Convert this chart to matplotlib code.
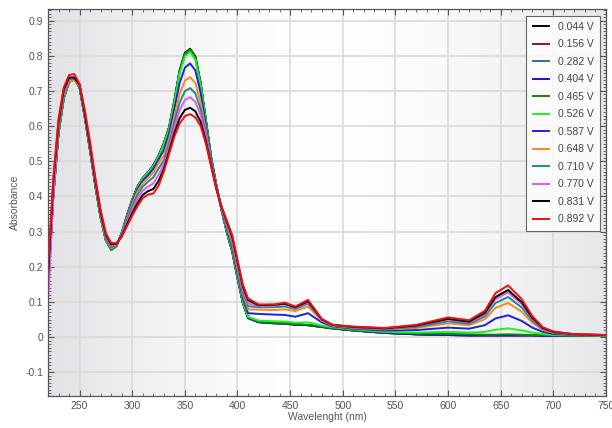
import numpy as np
import matplotlib
matplotlib.use("Agg")
import matplotlib.pyplot as plt
from matplotlib.ticker import MultipleLocator

plt.rcParams["font.family"] = ["Liberation Sans", "DejaVu Sans"]

# --------------------------------------------------------------
# Datos (nm, absorbancia)
# --------------------------------------------------------------
wl = [220, 225, 230, 235, 240, 245, 250, 255, 260, 265, 270, 275, 280, 285, 290,
      295, 300, 305, 310, 315, 320, 325, 330, 335, 340, 345, 350, 355, 360, 365,
      370, 375, 380, 385, 390, 395, 400, 405, 410, 420, 435, 445, 455, 467, 480,
      490, 510, 540, 570, 600, 620, 635, 645, 657, 670, 680, 690, 700, 720, 750]

v_0044 = [0.15, 0.40, 0.58, 0.68, 0.726, 0.735, 0.711, 0.626, 0.531, 0.431, 0.341, 0.276, 0.250, 0.259, 0.295,
          0.345, 0.390, 0.428, 0.452, 0.468, 0.488, 0.516, 0.551, 0.597, 0.672, 0.758, 0.808, 0.820, 0.798, 0.722,
          0.616, 0.510, 0.430, 0.360, 0.297, 0.243, 0.168, 0.098, 0.054, 0.042, 0.039, 0.038, 0.035, 0.034, 0.029,
          0.025, 0.019, 0.012, 0.008, 0.006, 0.005, 0.005, 0.005, 0.005, 0.005, 0.005, 0.004, 0.004, 0.004, 0.003]
v_0156 = [0.14, 0.40, 0.58, 0.68, 0.725, 0.734, 0.710, 0.625, 0.530, 0.430, 0.340, 0.275, 0.249, 0.259, 0.295,
          0.345, 0.390, 0.428, 0.452, 0.468, 0.487, 0.515, 0.550, 0.595, 0.670, 0.756, 0.806, 0.817, 0.796, 0.721,
          0.615, 0.510, 0.430, 0.360, 0.297, 0.244, 0.169, 0.099, 0.055, 0.043, 0.040, 0.039, 0.036, 0.034, 0.029,
          0.025, 0.019, 0.012, 0.008, 0.006, 0.005, 0.005, 0.005, 0.005, 0.005, 0.005, 0.004, 0.004, 0.004, 0.003]
v_0282 = [0.14, 0.40, 0.58, 0.68, 0.725, 0.733, 0.710, 0.625, 0.530, 0.430, 0.340, 0.275, 0.250, 0.260, 0.296,
          0.345, 0.390, 0.428, 0.452, 0.468, 0.487, 0.515, 0.550, 0.595, 0.669, 0.754, 0.804, 0.815, 0.794, 0.720,
          0.615, 0.510, 0.430, 0.360, 0.297, 0.244, 0.169, 0.099, 0.055, 0.043, 0.040, 0.039, 0.036, 0.034, 0.029,
          0.025, 0.019, 0.012, 0.008, 0.006, 0.005, 0.005, 0.005, 0.005, 0.005, 0.005, 0.004, 0.004, 0.004, 0.003]
v_0404 = [0.14, 0.40, 0.58, 0.68, 0.725, 0.733, 0.710, 0.625, 0.530, 0.430, 0.340, 0.275, 0.249, 0.259, 0.295,
          0.345, 0.390, 0.428, 0.452, 0.468, 0.487, 0.515, 0.550, 0.595, 0.670, 0.755, 0.805, 0.816, 0.795, 0.720,
          0.615, 0.510, 0.430, 0.360, 0.297, 0.244, 0.169, 0.099, 0.055, 0.043, 0.040, 0.039, 0.036, 0.034, 0.029,
          0.025, 0.019, 0.012, 0.008, 0.006, 0.005, 0.005, 0.005, 0.005, 0.005, 0.005, 0.004, 0.004, 0.004, 0.003]
v_0465 = [0.14, 0.40, 0.58, 0.68, 0.725, 0.733, 0.710, 0.625, 0.530, 0.430, 0.340, 0.275, 0.247, 0.258, 0.295,
          0.345, 0.390, 0.428, 0.452, 0.468, 0.487, 0.515, 0.550, 0.595, 0.670, 0.755, 0.805, 0.818, 0.795, 0.720,
          0.615, 0.510, 0.430, 0.360, 0.298, 0.245, 0.170, 0.100, 0.056, 0.044, 0.041, 0.040, 0.037, 0.035, 0.030,
          0.026, 0.020, 0.014, 0.010, 0.009, 0.008, 0.007, 0.007, 0.008, 0.007, 0.006, 0.006, 0.005, 0.005, 0.004]
v_0526 = [0.13, 0.40, 0.58, 0.68, 0.725, 0.733, 0.710, 0.625, 0.530, 0.430, 0.340, 0.275, 0.249, 0.259, 0.295,
          0.344, 0.389, 0.427, 0.451, 0.467, 0.485, 0.513, 0.547, 0.592, 0.666, 0.749, 0.798, 0.811, 0.788, 0.715,
          0.612, 0.509, 0.430, 0.360, 0.299, 0.247, 0.172, 0.102, 0.058, 0.047, 0.045, 0.044, 0.041, 0.042, 0.033,
          0.028, 0.022, 0.015, 0.013, 0.015, 0.013, 0.015, 0.021, 0.025, 0.019, 0.013, 0.009, 0.006, 0.005, 0.004]
v_0587 = [0.15, 0.41, 0.588, 0.686, 0.729, 0.736, 0.712, 0.628, 0.534, 0.434, 0.344, 0.279, 0.251, 0.260, 0.294,
          0.341, 0.385, 0.421, 0.445, 0.460, 0.478, 0.505, 0.532, 0.579, 0.648, 0.722, 0.766, 0.778, 0.758, 0.694,
          0.601, 0.505, 0.428, 0.362, 0.305, 0.255, 0.181, 0.111, 0.068, 0.066, 0.064, 0.063, 0.058, 0.068, 0.042,
          0.031, 0.024, 0.019, 0.020, 0.027, 0.024, 0.034, 0.053, 0.062, 0.046, 0.027, 0.015, 0.009, 0.006, 0.005]
v_0648 = [0.13, 0.415, 0.592, 0.689, 0.728, 0.730, 0.713, 0.630, 0.536, 0.436, 0.346, 0.281, 0.253, 0.261, 0.292,
          0.337, 0.379, 0.414, 0.438, 0.452, 0.467, 0.494, 0.516, 0.563, 0.627, 0.691, 0.729, 0.739, 0.722, 0.668,
          0.587, 0.499, 0.426, 0.364, 0.312, 0.264, 0.192, 0.122, 0.079, 0.078, 0.077, 0.079, 0.074, 0.087, 0.047,
          0.033, 0.026, 0.022, 0.026, 0.039, 0.034, 0.051, 0.083, 0.097, 0.072, 0.041, 0.020, 0.012, 0.007, 0.005]
v_0710 = [0.12, 0.423, 0.598, 0.694, 0.733, 0.735, 0.715, 0.632, 0.539, 0.439, 0.349, 0.284, 0.256, 0.262, 0.291,
          0.332, 0.371, 0.404, 0.428, 0.442, 0.454, 0.479, 0.502, 0.550, 0.610, 0.666, 0.699, 0.708, 0.693, 0.648,
          0.576, 0.495, 0.424, 0.366, 0.317, 0.272, 0.200, 0.130, 0.088, 0.085, 0.085, 0.087, 0.080, 0.095, 0.049,
          0.034, 0.027, 0.023, 0.029, 0.045, 0.038, 0.059, 0.097, 0.114, 0.084, 0.047, 0.023, 0.013, 0.007, 0.006]
v_0770 = [0.09, 0.40, 0.604, 0.698, 0.735, 0.738, 0.716, 0.634, 0.542, 0.442, 0.352, 0.287, 0.260, 0.263, 0.289,
          0.326, 0.362, 0.393, 0.416, 0.428, 0.437, 0.461, 0.491, 0.540, 0.596, 0.645, 0.674, 0.682, 0.669, 0.631,
          0.567, 0.491, 0.423, 0.367, 0.322, 0.278, 0.207, 0.137, 0.096, 0.089, 0.090, 0.093, 0.083, 0.099, 0.050,
          0.034, 0.028, 0.024, 0.032, 0.050, 0.042, 0.065, 0.108, 0.127, 0.094, 0.052, 0.025, 0.015, 0.008, 0.006]
v_0831 = [0.17, 0.44, 0.612, 0.704, 0.738, 0.738, 0.718, 0.637, 0.546, 0.446, 0.356, 0.291, 0.264, 0.265, 0.287,
          0.320, 0.352, 0.381, 0.404, 0.415, 0.421, 0.444, 0.478, 0.528, 0.580, 0.622, 0.646, 0.652, 0.642, 0.612,
          0.556, 0.488, 0.421, 0.369, 0.327, 0.286, 0.215, 0.145, 0.105, 0.091, 0.092, 0.095, 0.085, 0.102, 0.051,
          0.035, 0.029, 0.025, 0.033, 0.052, 0.044, 0.069, 0.114, 0.134, 0.099, 0.055, 0.026, 0.015, 0.008, 0.006]
v_0892 = [0.19, 0.45, 0.62, 0.71, 0.745, 0.748, 0.720, 0.645, 0.555, 0.452, 0.362, 0.295, 0.268, 0.267, 0.285,
          0.315, 0.345, 0.372, 0.395, 0.405, 0.408, 0.430, 0.470, 0.520, 0.570, 0.607, 0.628, 0.634, 0.625, 0.600,
          0.550, 0.485, 0.420, 0.370, 0.330, 0.290, 0.220, 0.150, 0.110, 0.093, 0.093, 0.098, 0.087, 0.106, 0.052,
          0.035, 0.030, 0.026, 0.035, 0.056, 0.048, 0.075, 0.125, 0.147, 0.108, 0.060, 0.028, 0.016, 0.008, 0.006]

labels = ["0.044 V", "0.156 V", "0.282 V", "0.404 V", "0.465 V", "0.526 V",
          "0.587 V", "0.648 V", "0.710 V", "0.770 V", "0.831 V", "0.892 V"]
series = [v_0044, v_0156, v_0282, v_0404, v_0465, v_0526,
          v_0587, v_0648, v_0710, v_0770, v_0831, v_0892]
colores = ["#000000", "#8b1a1a", "#2e6e9a", "#1414c8", "#0a8a0a", "#22ee22",
           "#2020e0", "#f08c1e", "#1a8c8c", "#ee55ee", "#000000", "#ee1010"]

# --------------------------------------------------------------
# Figura
# --------------------------------------------------------------
fig = plt.figure(figsize=(6.12, 4.28), dpi=100)
ax = fig.add_axes([0.0784, 0.0755, 0.9118, 0.9028])

# fondo con degradado gris-blanco-gris
xs = np.linspace(0, 1, 400)
prof = np.clip(np.abs(xs - 0.5) / 0.5, 0, 1) ** 1.6
izq = np.array([0.885, 0.885, 0.905])
der = np.array([0.905, 0.905, 0.92])
borde = np.where(xs[:, None] < 0.5, izq, der)
img = 1 - prof[:, None] * (1 - borde)
ax.imshow(img[None, :, :], extent=[0, 1, 0, 1], transform=ax.transAxes,
          aspect="auto", zorder=0, interpolation="bilinear")

for v, c, lab in zip(series, colores, labels):
    ax.plot(wl, v, color=c, linewidth=1.4, label=lab, zorder=2)

ax.set_xlim(220, 750)
ax.set_ylim(-0.1665, 0.932)
ax.xaxis.set_major_locator(MultipleLocator(50))
ax.xaxis.set_minor_locator(MultipleLocator(10))
ax.yaxis.set_major_locator(MultipleLocator(0.1))
ax.yaxis.set_minor_locator(MultipleLocator(0.01))
ax.yaxis.set_major_formatter(plt.FuncFormatter(lambda y, p: "0" if abs(y) < 1e-9 else f"{y:.1f}"))

ax.grid(True, which="major", color="#d9d9d9", linewidth=1.2)
ax.set_axisbelow(True)
ax.tick_params(which="both", direction="in", top=True, right=True,
               colors="#555555", labelcolor="#555555", labelsize=7.5)
ax.tick_params(which="major", length=4, width=0.8)
ax.tick_params(which="minor", length=2, width=0.6)
for s in ax.spines.values():
    s.set_color("#555555")
    s.set_linewidth(0.9)

ax.set_xlabel("Wavelenght (nm)", fontsize=7.5, color="#555555", labelpad=1)
ax.set_ylabel("Absorbance", fontsize=7.5, color="#555555", labelpad=4)

leg = ax.legend(loc="upper right", fontsize=7.5, frameon=True, fancybox=False,
                edgecolor="#444444", handlelength=1.6, handletextpad=0.8,
                labelspacing=0.72, borderaxespad=0.6, borderpad=0.6)
leg.get_frame().set_linewidth(0.8)
for t in leg.get_texts():
    t.set_color("#444444")

fig.savefig("out.png", dpi=100)
